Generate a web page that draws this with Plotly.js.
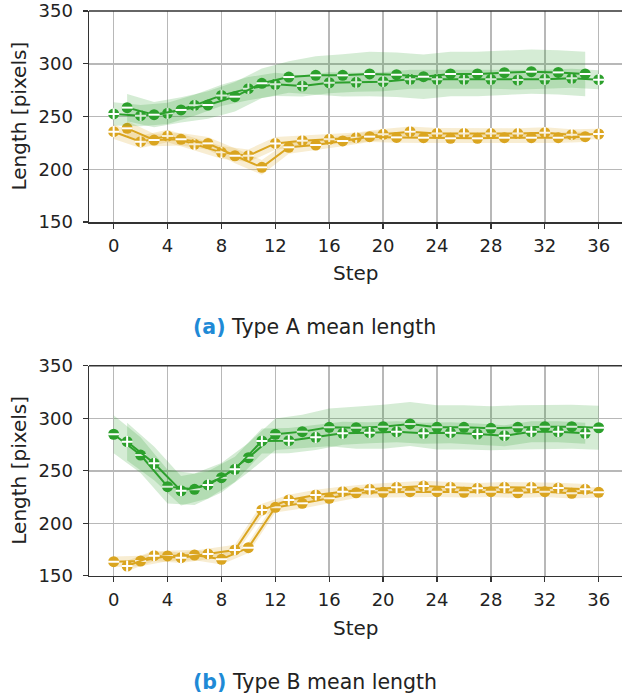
<!DOCTYPE html>
<html>
<head>
<meta charset="utf-8">
<script src="https://cdn.plot.ly/plotly-3.0.1.min.js"></script>
<style>html,body{margin:0;padding:0;background:#fff;overflow:hidden}#chart{width:622px;height:699px}</style>
</head>
<body>
<div id="chart"></div>
<script>
// ---- data ----
const stepsEven = [0,2,4,6,8,10,12,14,16,18,20,22,24,26,28,30,32,34,36];
const stepsOdd  = [1,3,5,7,9,11,13,15,17,19,21,23,25,27,29,31,33,35];
const xTicks = [0,4,8,12,16,20,24,28,32,36];
const yTicks = [150,200,250,300,350];

// Panel (a) Type A
const aGreenEven = [252.4,250.8,253,260.6,270,276.4,280.5,278.9,282,282.4,283,285.2,285.2,285.2,285.2,284.6,285.2,286.2,284.9];
const aGreenEvenSd = [11,10,10,10,10,11,11,10,10,9,9,9,9,9,9,9,9,9,9];
const aGreenOdd = [258.4,251.7,256.2,260.9,268.8,281.5,287.4,289,289,290.3,289.6,287.7,290.3,290.3,291.5,292.5,291.8,290.3];
const aGreenOddSd = [13,12,12,13,14,14,15,18,20,21,21,21,21,21,21,21,21,21];
const aYellowEven = [235.6,226.1,231.5,223.6,216,212.8,224.5,227.1,228.4,229.9,233.1,235.6,234,234,233.8,233.8,234.7,232.8,233.4];
const aYellowEvenSd = [7,6,6,6,6,6,6,5,5,5,5,5,5,5,5,5,5,5,5];
const aYellowOdd = [238.8,227.7,228.4,224.5,212.8,201.8,220.8,223,226.8,230.9,230.2,229.9,229.3,229.3,229.9,229.9,229.9,230.9];
const aYellowOddSd = [7,6,6,6,7,7,6,5,5,5,5,5,5,5,5,5,5,5];

// Panel (b) Type B
const bGreenEven = [284.8,265,234.9,232.4,243.4,262.5,284.8,287.3,291.4,291,292,294.6,291.4,291.4,290.5,291.4,292,292,291];
const bGreenEvenSd = [18,17,16,15,14,14,15,16,18,20,21,21,21,21,21,21,21,21,21];
const bGreenOdd = [277.7,257.1,231,236.5,251.4,278.4,278.7,281.9,285.7,286.3,287.2,285.7,286.3,285,283.4,287.2,287.2,285.7];
const bGreenOddSd = [18,16,14,13,12,12,12,12,11,10,10,10,10,10,10,10,10,10];
const bYellowEven = [163.4,164.1,168.9,169.8,165.7,176.8,215.2,219,223.8,229.1,229.5,230.1,230.1,229.5,230.1,229.1,230.1,228.6,229.5];
const bYellowEvenSd = [5,5,5,5,5,5,5,5,5,5,5,5,5,5,5,5,5,5,5];
const bYellowOdd = [159.3,169.2,167.3,170.8,174.6,212.7,222.2,227,230.1,232.4,234.3,235.5,234.3,233.3,234.3,234.3,233.6,232.4];
const bYellowOddSd = [5,5,5,5,5,6,5,5,5,5,5,5,5,5,5,5,5,5];

// ---- styles ----
const GREEN = '#2ca02c', GREEN_FILL = 'rgba(44,160,44,0.2)';
const YELLOW = '#daa520', YELLOW_FILL = 'rgba(218,165,32,0.2)';
const FONT = 'DejaVu Sans, sans-serif';

const traces = [];
function addSeries(xa, ya, x, mean, sd, color, fill, sym) {
  const up = mean.map((m,i)=>m+sd[i]);
  const lo = mean.map((m,i)=>m-sd[i]);
  traces.push({x: x.concat(x.slice().reverse()), y: up.concat(lo.slice().reverse()),
    xaxis: xa, yaxis: ya, type:'scatter', mode:'lines', fill:'toself', fillcolor: fill,
    line:{width:0, color:fill}, hoverinfo:'skip', showlegend:false});
  traces.push({x:x, y:mean, xaxis:xa, yaxis:ya, type:'scatter', mode:'lines',
    line:{color:color, width:2}, showlegend:false});
  traces.push({x:x, y:mean, xaxis:xa, yaxis:ya, type:'scatter', mode:'markers',
    marker:{symbol:'circle', size:11, color:color, line:{width:0}}, showlegend:false});
  traces.push({x:x, y:mean, xaxis:xa, yaxis:ya, type:'scatter', mode:'markers',
    marker:{symbol: sym==='+' ? 'cross-thin-open' : 'line-ew-open', size:8, color:'#fff',
      line:{width:2, color:'#fff'}}, showlegend:false});
}
addSeries('x','y', stepsEven, aYellowEven, aYellowEvenSd, YELLOW, YELLOW_FILL, '+');
addSeries('x','y', stepsOdd, aYellowOdd, aYellowOddSd, YELLOW, YELLOW_FILL, '-');
addSeries('x','y', stepsEven, aGreenEven, aGreenEvenSd, GREEN, GREEN_FILL, '+');
addSeries('x','y', stepsOdd, aGreenOdd, aGreenOddSd, GREEN, GREEN_FILL, '-');
addSeries('x2','y2', stepsEven, bYellowEven, bYellowEvenSd, YELLOW, YELLOW_FILL, '-');
addSeries('x2','y2', stepsOdd, bYellowOdd, bYellowOddSd, YELLOW, YELLOW_FILL, '+');
addSeries('x2','y2', stepsEven, bGreenEven, bGreenEvenSd, GREEN, GREEN_FILL, '-');
addSeries('x2','y2', stepsOdd, bGreenOdd, bGreenOddSd, GREEN, GREEN_FILL, '+');

const W = 622, H = 699;
const xDom = [89/W, 1];
function xAx(anchor){
  return {domain:xDom, range:[-1.83,37.73], anchor:anchor, tickvals:xTicks, ticktext:xTicks.map(String),
    showgrid:true, gridcolor:'#b8b8b8', gridwidth:1.5, zeroline:false,
    showline:true, linecolor:'#333', linewidth:1.5, ticks:'outside', ticklen:5, tickwidth:1.3, tickcolor:'#333',
    tickfont:{family:FONT, size:18, color:'#222'}, ticklabelstandoff:2, fixedrange:true};
}
function yAx(anchor, dom){
  return {domain:dom, range:[150,350], anchor:anchor, tickvals:yTicks, ticktext:yTicks.map(String),
    showgrid:true, gridcolor:'#b8b8b8', gridwidth:1.5, zeroline:false,
    showline:true, linecolor:'#333', linewidth:1.5, ticks:'outside', ticklen:5, tickwidth:1.3, tickcolor:'#333',
    tickfont:{family:FONT, size:18, color:'#222'}, ticklabelstandoff:6, fixedrange:true};
}
const yDomA = [1-222/H, 1-11/H];
const yDomB = [1-575.8/H, 1-365.8/H];

const layout = {
  width:W, height:H, margin:{l:0,r:0,t:0,b:0}, paper_bgcolor:'#fff', plot_bgcolor:'#fff',
  showlegend:false,
  xaxis: xAx('y'), yaxis: yAx('x', yDomA),
  xaxis2: xAx('y2'), yaxis2: yAx('x2', yDomB),
  shapes:[
    {type:'line', xref:'paper', yref:'paper', x0:xDom[0], x1:1, y0:yDomA[1], y1:yDomA[1], line:{color:'#333', width:1.5}},
    {type:'line', xref:'paper', yref:'paper', x0:xDom[0], x1:1, y0:yDomB[1], y1:yDomB[1], line:{color:'#333', width:1.5}}
  ],
  annotations:[
    {text:'Step', xref:'paper', yref:'paper', x:356/W, y:1-273/H, showarrow:false, xanchor:'center', yanchor:'middle', font:{family:FONT, size:20, color:'#222'}},
    {text:'Step', xref:'paper', yref:'paper', x:356/W, y:1-628/H, showarrow:false, xanchor:'center', yanchor:'middle', font:{family:FONT, size:20, color:'#222'}},
    {text:'Length [pixels]', xref:'paper', yref:'paper', x:19/W, y:1-116.5/H, textangle:-90, showarrow:false, xanchor:'center', yanchor:'middle', font:{family:FONT, size:20, color:'#222'}},
    {text:'Length [pixels]', xref:'paper', yref:'paper', x:19/W, y:1-470.7/H, textangle:-90, showarrow:false, xanchor:'center', yanchor:'middle', font:{family:FONT, size:20, color:'#222'}},
    {text:'<b><span style="color:#1f8ad6">(a)</span></b> Type A mean length', xref:'paper', yref:'paper', x:314.5/W, y:1-327/H, showarrow:false, xanchor:'center', yanchor:'middle', font:{family:FONT, size:20.5, color:'#222'}},
    {text:'<b><span style="color:#1f8ad6">(b)</span></b> Type B mean length', xref:'paper', yref:'paper', x:314.5/W, y:1-682/H, showarrow:false, xanchor:'center', yanchor:'middle', font:{family:FONT, size:20.5, color:'#222'}}
  ]
};
Plotly.newPlot('chart', traces, layout, {displayModeBar:false, staticPlot:true});
</script>
</body>
</html>
